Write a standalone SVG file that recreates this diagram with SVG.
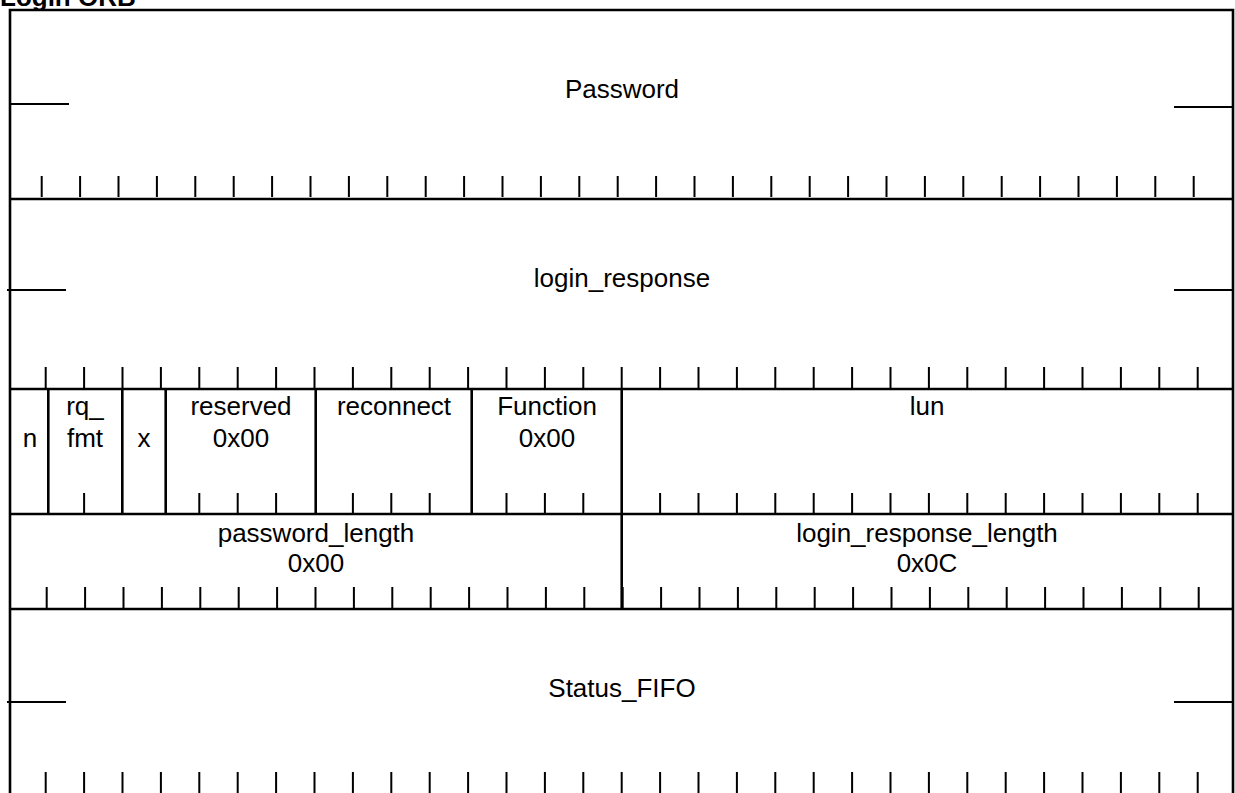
<svg xmlns="http://www.w3.org/2000/svg" width="1235" height="793" viewBox="0 0 1235 793">
<style>
.b{stroke:#000;stroke-width:2.6;fill:none}
.t{stroke:#000;stroke-width:2;fill:none}
.s{stroke:#000;stroke-width:1.8;fill:none}
text{font-family:"Liberation Sans",Arial,sans-serif;font-size:26px;fill:#000;text-anchor:middle}
.title{font-weight:bold;text-anchor:start}
</style>
<defs>
<path id="tk1" d="M41.7 176V197M80.1 176V197M118.5 176V197M156.9 176V197M195.3 176V197M233.7 176V197M272.1 176V197M310.5 176V197M348.9 176V197M387.3 176V197M425.7 176V197M464.1 176V197M502.5 176V197M540.9 176V197M579.3 176V197M617.7 176V197M656.1 176V197M694.5 176V197M732.9 176V197M771.3 176V197M809.7 176V197M848.1 176V197M886.5 176V197M924.9 176V197M963.3 176V197M1001.7 176V197M1040.1 176V197M1078.5 176V197M1116.9 176V197M1155.3 176V197M1193.7 176V197"/>
<path id="tk2" d="M45.7 0V21M84.1 0V21M122.5 0V21M160.9 0V21M199.3 0V21M237.7 0V21M276.1 0V21M314.5 0V21M352.9 0V21M391.3 0V21M429.7 0V21M468.1 0V21M506.5 0V21M544.9 0V21M583.3 0V21M621.7 0V21M660.1 0V21M698.5 0V21M736.9 0V21M775.3 0V21M813.7 0V21M852.1 0V21M890.5 0V21M928.9 0V21M967.3 0V21M1005.7 0V21M1044.1 0V21M1082.5 0V21M1120.9 0V21M1159.3 0V21M1197.7 0V21"/>
</defs>
<text class="title" x="0" y="6">Login ORB</text>
<g id="frame">
<path class="b" d="M10 793V10H1233V793"/>
</g>
<g id="password">
<text x="622" y="98">Password</text>
<path class="s" d="M10 104H69M1174 107H1233"/>
<use href="#tk1" class="t"/>
<path class="b" d="M10 199H1233"/>
</g>
<g id="login_response">
<text x="622" y="287">login_response</text>
<path class="s" d="M7 290H66M1174 290H1233"/>
<use href="#tk2" class="t" transform="translate(0 367)"/>
<path class="b" d="M10 389H1233"/>
</g>
<g id="field_n">
<text x="30" y="447">n</text>
<path class="b" d="M48.3 389V514"/>
</g>
<g id="field_rq_fmt">
<text x="85" y="415">rq_</text>
<text x="85" y="447">fmt</text>
<path class="t" d="M84.1 493V513"/>
<path class="b" d="M122.3 389V514"/>
</g>
<g id="field_x">
<text x="144" y="447">x</text>
<path class="b" d="M165.7 389V514"/>
</g>
<g id="field_reserved">
<text x="241" y="415">reserved</text>
<text x="241" y="447">0x00</text>
<path class="t" d="M199.3 493V513M237.7 493V513M276.1 493V513"/>
<path class="b" d="M315.7 389V514"/>
</g>
<g id="field_reconnect">
<text x="394" y="415">reconnect</text>
<path class="t" d="M352.9 493V513M391.3 493V513M429.7 493V513"/>
<path class="b" d="M471.7 389V514"/>
</g>
<g id="field_function">
<text x="547" y="415">Function</text>
<text x="547" y="447">0x00</text>
<path class="t" d="M506.5 493V513M544.9 493V513M583.3 493V513"/>
<path class="b" d="M621.7 389V514"/>
</g>
<g id="field_lun">
<text x="927" y="415">lun</text>
<path class="t" d="M660.1 493V513M698.5 493V513M736.9 493V513M775.3 493V513M813.7 493V513M852.1 493V513M890.5 493V513M928.9 493V513M967.3 493V513M1005.7 493V513M1044.1 493V513M1082.5 493V513M1120.9 493V513M1159.3 493V513M1197.7 493V513"/>
<path class="b" d="M10 514H1233"/>
</g>
<g id="field_password_length">
<text x="316" y="542">password_length</text>
<text x="316" y="572">0x00</text>
<use href="#tk2" class="t" transform="translate(1 587)"/>
<path class="b" d="M621.7 514V609"/>
</g>
<g id="field_login_response_length">
<text x="927" y="542">login_response_length</text>
<text x="927" y="572">0x0C</text>
<path class="b" d="M10 609H1233"/>
</g>
<g id="status_fifo">
<text x="622" y="697">Status_FIFO</text>
<path class="s" d="M7 702H66M1174 702H1233"/>
<use href="#tk2" class="t" transform="translate(0 772)"/>
</g>
<g id="connectors"></g>
</svg>
